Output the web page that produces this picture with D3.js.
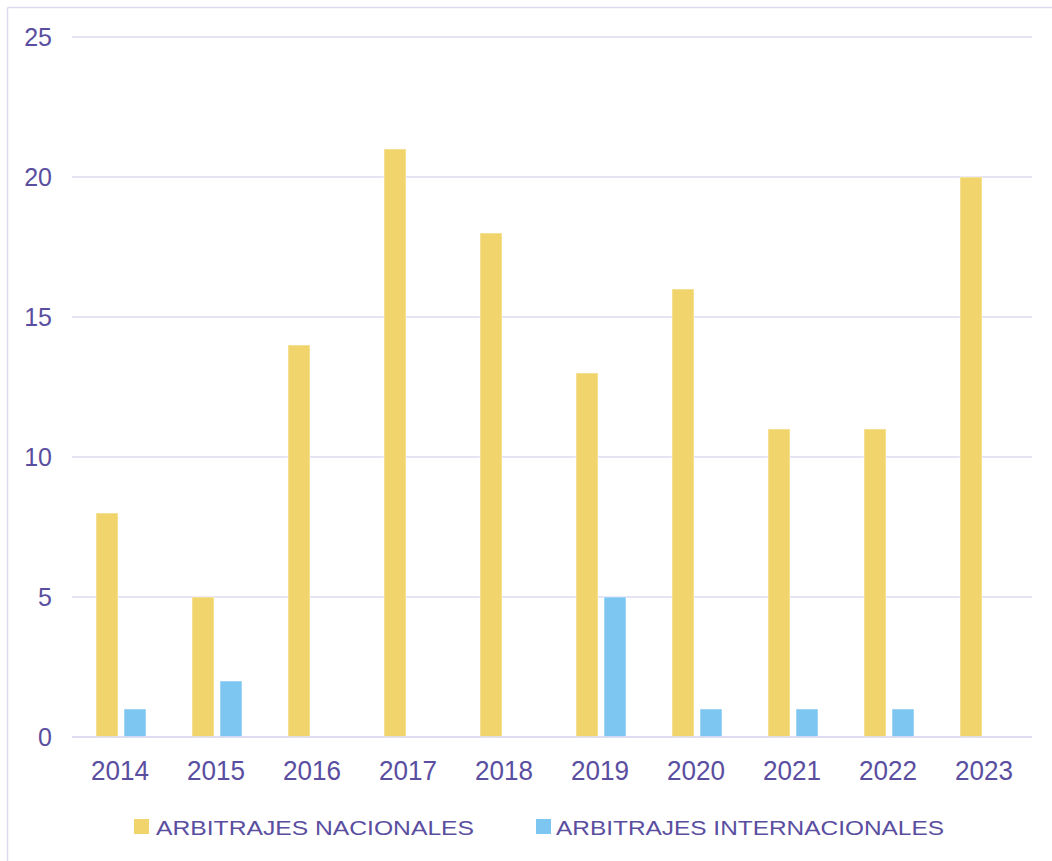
<!DOCTYPE html>
<html><head><meta charset="utf-8">
<script src="https://cdn.jsdelivr.net/npm/d3@7"></script>
<style>body{margin:0;background:#fff}svg{display:block}</style>
</head><body>
<script>
const years = ["2014","2015","2016","2017","2018","2019","2020","2021","2022","2023"];
const nacionales = [8,5,14,21,18,13,16,11,11,20];
const internacionales = [1,2,0,0,0,5,1,1,1,0];
const seriesNames = ["ARBITRAJES NACIONALES","ARBITRAJES INTERNACIONALES"];
const yTicks = [0,5,10,15,20,25];

const W=1052,H=861;
const colors=["#f2d46c","#7ec6f2"];
const textColor="#5a4ea0";
const gridColor="#dddaf0";
const font="'Liberation Sans', Arial, sans-serif";

const svg=d3.select("body").append("svg").attr("width",W).attr("height",H);
svg.append("rect").attr("width",W).attr("height",H).attr("fill","#fff");
// frame (top and left edges)
svg.append("line").attr("x1",7.5).attr("x2",W).attr("y1",7.5).attr("y2",7.5).attr("stroke",gridColor).attr("stroke-width",1.5);
svg.append("line").attr("x1",7.5).attr("x2",7.5).attr("y1",7.5).attr("y2",H).attr("stroke",gridColor).attr("stroke-width",1.5);

const x0=d3.scaleBand().domain(years).range([72,1032]).padding(0);
const x1=d3.scaleBand().domain([0,1]).range([24,74]).paddingInner(6/28).paddingOuter(0);
const y=d3.scaleLinear().domain([0,25]).range([737,37]);

// gridlines
svg.append("g").selectAll("line").data(yTicks).join("line")
  .attr("x1",72).attr("x2",1032)
  .attr("y1",d=>y(d)).attr("y2",d=>y(d))
  .attr("stroke",gridColor).attr("stroke-width",1.5);

// y labels
svg.append("g").selectAll("text").data(yTicks).join("text")
  .attr("x",52).attr("y",d=>y(d)).attr("dy","0.35em")
  .attr("text-anchor","end").attr("fill",textColor)
  .attr("font-family",font).attr("font-size",25)
  .text(d=>d);

const data=[nacionales,internacionales];
data.forEach((vals,si)=>{
  svg.append("g").selectAll("rect").data(vals.map((v,i)=>({v,year:years[i]})).filter(d=>d.v>0)).join("rect")
    .attr("x",d=>x0(d.year)+x1(si))
    .attr("width",x1.bandwidth())
    .attr("y",d=>y(d.v))
    .attr("height",d=>y(0)-y(d.v))
    .attr("fill",colors[si])
    .attr("stroke","rgba(255,255,255,0.5)").attr("stroke-width",1);
});

// baseline
svg.append("line").attr("x1",72).attr("x2",1032).attr("y1",y(0)).attr("y2",y(0))
  .attr("stroke",gridColor).attr("stroke-width",1.5);

// x labels
svg.append("g").selectAll("text").data(years).join("text")
  .attr("x",d=>x0(d)+x0.bandwidth()/2).attr("y",780)
  .attr("text-anchor","middle").attr("fill",textColor)
  .attr("font-family",font).attr("font-size",27)
  .attr("textLength",58).attr("lengthAdjust","spacingAndGlyphs")
  .text(d=>d);

// legend
const legendPos=[{sx:134,tx:156,tw:318},{sx:536,tx:556,tw:388}];
seriesNames.forEach((name,i)=>{
  svg.append("rect").attr("x",legendPos[i].sx).attr("y",819).attr("width",15).attr("height",15).attr("fill",colors[i]);
  svg.append("text").attr("x",legendPos[i].tx).attr("y",835)
    .attr("fill",textColor).attr("font-family",font).attr("font-size",21)
    .attr("textLength",legendPos[i].tw).attr("lengthAdjust","spacingAndGlyphs")
    .text(name);
});
</script>
</body></html>
